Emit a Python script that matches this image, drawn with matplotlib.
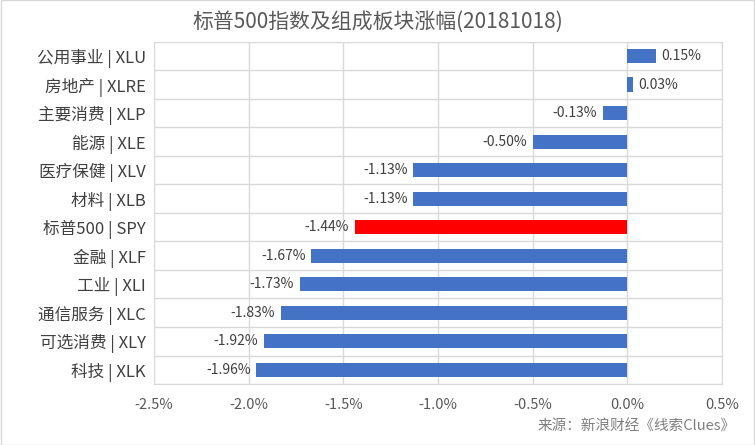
import matplotlib
matplotlib.use('Agg')
import matplotlib.pyplot as plt
from matplotlib.ticker import FuncFormatter, MultipleLocator

plt.rcParams['font.family'] = ['Noto Sans CJK SC', 'DejaVu Sans']

# data, top to bottom
labels = ['公用事业 | XLU', '房地产 | XLRE', '主要消费 | XLP', '能源 | XLE',
          '医疗保健 | XLV', '材料 | XLB', '标普500 | SPY', '金融 | XLF',
          '工业 | XLI', '通信服务 | XLC', '可选消费 | XLY', '科技 | XLK']
values = [0.15, 0.03, -0.13, -0.50, -1.13, -1.13, -1.44, -1.67, -1.73, -1.83, -1.92, -1.96]
highlight = '标普500 | SPY'

text_col = '#595959'
grid_col = '#d9d9d9'

fig = plt.figure(figsize=(7.55, 4.45), dpi=100)
ax = fig.add_axes([0.204, 0.137, 0.752, 0.769])

ys = list(range(len(labels)))
colors = ['#ff0000' if l == highlight else '#4472c4' for l in labels]
ax.barh(ys, values, height=0.5, color=colors, zorder=3)

for y, v in zip(ys, values):
    if v >= 0:
        ax.text(v + 0.03, y, f'{v:.2f}%', va='center', ha='left', fontsize=10, color='#404040')
    else:
        ax.text(v - 0.03, y, f'{v:.2f}%', va='center', ha='right', fontsize=10, color='#404040')

ax.set_xlim(-2.5, 0.5)
ax.set_ylim(len(labels) - 0.5, -0.5)
ax.xaxis.set_major_locator(MultipleLocator(0.5))
ax.xaxis.set_major_formatter(FuncFormatter(lambda x, p: f'{x:.1f}%'))
ax.set_yticks(ys)
ax.set_yticklabels(labels, fontsize=12, color='#404040')
ax.set_yticks([i + 0.5 for i in range(-1, len(labels))], minor=True)
ax.tick_params(axis='x', labelsize=10.5, colors=text_col, length=0, pad=10)
ax.tick_params(axis='y', which='both', length=0, pad=6)
ax.grid(axis='x', which='major', color=grid_col, linewidth=1, zorder=0)
ax.grid(axis='y', which='minor', color=grid_col, linewidth=1, zorder=0)
for s in ax.spines.values():
    s.set_color(grid_col)

fig.text(0.5, 0.952, '标普500指数及组成板块涨幅(20181018)', ha='center', va='center',
         fontsize=15, color=text_col)
fig.text(0.975, 0.04, '来源：新浪财经《线索Clues》', ha='right', va='center',
         fontsize=10.5, color='#7f7f7f')

# figure border
fig.patches.append(plt.Rectangle((0.001, 0.001), 0.998, 0.998, transform=fig.transFigure,
                                 fill=False, edgecolor='#d9d9d9', linewidth=1))

fig.savefig('out.png', dpi=100)
